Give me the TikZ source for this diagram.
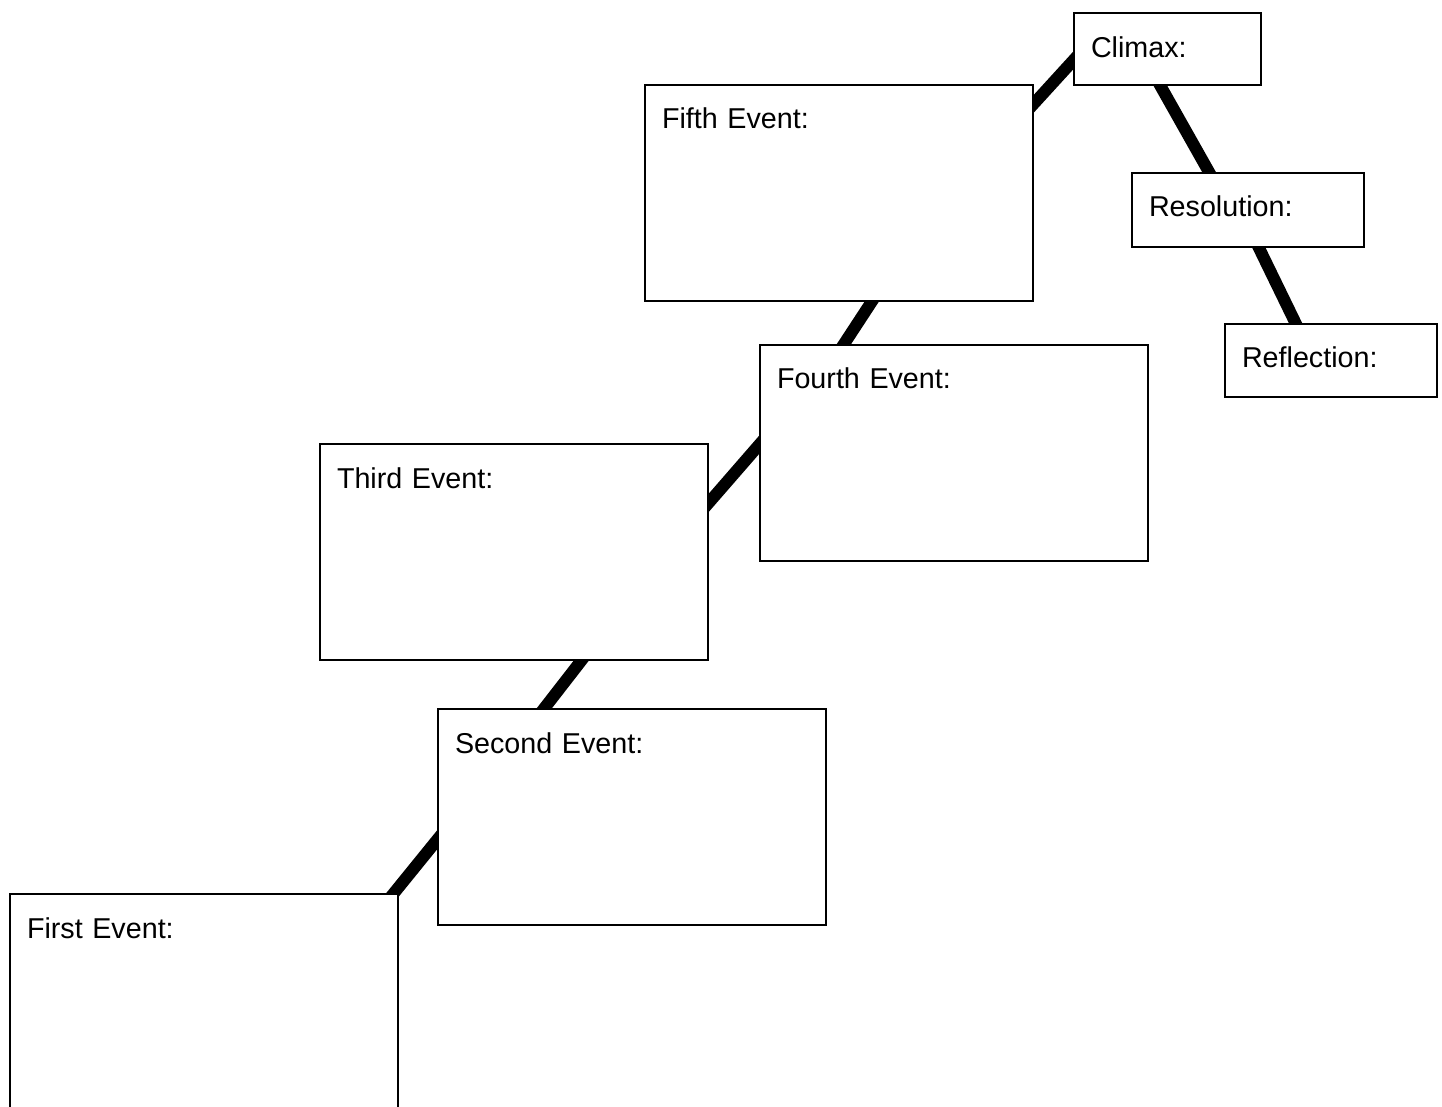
\documentclass[tikz,border=0pt]{standalone}
\usepackage{fontspec}
\setmainfont{Liberation Sans}
\usepackage{tikz}
\usetikzlibrary{positioning, backgrounds, calc}
\tikzset{
    eventbox/.style={rectangle, draw=black, fill=white, line width=1pt, anchor=north west, align=left, inner xsep=8.5pt, inner ysep=0pt, text height=22pt, text width=177pt, text depth=86pt, font=\fontsize{14.35pt}{17pt}\selectfont},
    stagebox/.style={eventbox, text width=#1, text depth=14.5pt},
    plotline/.style={line width=6pt, shorten <=-12pt, shorten >=-12pt}
}

\begin{document}
\begin{tikzpicture}[x=0.5pt, y=-0.5pt]
    \useasboundingbox (0,0) rectangle (1442,1107);

    \node (first) [eventbox] at (9,893) {First Event:};
    \node (second) [eventbox] at (437,708) {Second Event:};
    \node (third) [eventbox] at (319,443) {Third Event:};
    \node (fourth) [eventbox] at (759,344) {Fourth Event:};
    \node (fifth) [eventbox] at (644,84) {Fifth Event:};

    \node (climax) [stagebox=76.5pt, text depth=13.75pt] at (1073,12.5) {Climax:};
    \node (resolution) [stagebox=99pt, text depth=15pt] at (1131,172) {Resolution:};
    \node (reflection) [stagebox=89pt] at (1224,323) {Reflection:};

    % the rising and falling plot line, behind the boxes
    \begin{scope}[on background layer]
        \draw [plotline] ([xshift=-2.5pt]first.north east) -- ([yshift=-11.5pt]second.west);
        \draw [plotline] ([xshift=-43.75pt]second.north) -- ([xshift=33.5pt]third.south);
        \draw [plotline] ([yshift=24.75pt]third.east) -- ([yshift=4pt]fourth.west);
        \draw [plotline] ([xshift=-55pt]fourth.north) -- ([xshift=16.25pt]fifth.south);
        \draw [plotline] ([yshift=-9.75pt]fifth.north east) -- ([yshift=-5.75pt]climax.west);
        \draw [plotline] ([xshift=-3.5pt]climax.south) -- ([xshift=-19.5pt]resolution.north);
        \draw [plotline] ([xshift=5.5pt]resolution.south) -- ([xshift=-17.75pt]reflection.north);
    \end{scope}
\end{tikzpicture}
\end{document}
